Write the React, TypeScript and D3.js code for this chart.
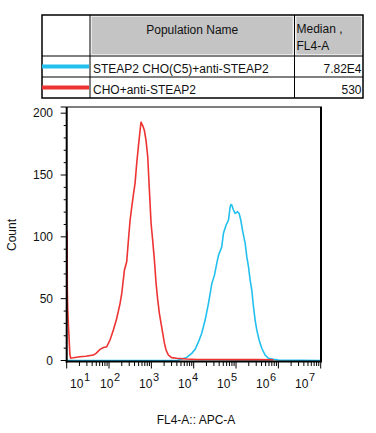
import React from "react";
import * as d3 from "d3";

// ---- data (log10 of FL4-A intensity, count) ----
const redLog = [1.0, 1.008, 1.015, 1.025, 1.039, 1.05, 1.062, 1.075, 1.094, 1.157, 1.315, 1.45, 1.63, 1.7, 1.787, 1.87, 1.945, 2.023, 2.102, 2.181, 2.26, 2.3, 2.363, 2.418, 2.457, 2.496, 2.536, 2.575, 2.615, 2.654, 2.693, 2.733, 2.756, 2.776, 2.796, 2.835, 2.874, 2.914, 2.953, 2.993, 3.032, 3.072, 3.111, 3.15, 3.19, 3.229, 3.269, 3.308, 3.347, 3.402, 3.481, 3.6, 3.836, 4.073, 4.5, 5.0, 5.5, 5.885];
const redCount = [105, 104, 56, 40, 30, 22, 14, 5, 2, 2.2, 3, 3.5, 4.4, 6, 9, 10.5, 11, 16.6, 24.7, 34, 46, 54, 73, 80, 97, 113, 124, 134, 143.5, 159.5, 173, 186, 193, 191, 190, 186, 178, 165, 138, 111, 97, 81, 62.5, 49, 38, 30, 22, 14, 8.5, 4.4, 2.3, 1.8, 1.2, 0.8, 0.8, 0.7, 0.7, 0.6];
const blueLog = [1.0, 3.6, 3.718, 3.836, 3.954, 4.033, 4.112, 4.19, 4.27, 4.348, 4.427, 4.49, 4.545, 4.585, 4.663, 4.703, 4.766, 4.821, 4.86, 4.88, 4.9, 4.939, 4.978, 5.034, 5.073, 5.112, 5.16, 5.215, 5.254, 5.294, 5.333, 5.372, 5.412, 5.451, 5.49, 5.545, 5.608, 5.687, 5.766, 5.885, 6.003, 7.0];
const blueCount = [0, 0, 1.2, 2.5, 5.8, 9, 15, 22, 32.7, 46, 62, 69, 78.6, 85, 92, 103, 109.6, 113.4, 124, 126, 125.7, 121.7, 119, 120.3, 119, 113.6, 104, 95, 84, 76, 65, 57, 43.5, 32.7, 24.7, 16.6, 9.9, 4.4, 1.8, 1, 0.4, 0];

const populations = ["STEAP2 CHO(C5)+anti-STEAP2", "CHO+anti-STEAP2"];
const medians = ["7.82E4", "530"];
const popColors = ["#22c0ee", "#ee3333"];
const yTickLabels = [0, 50, 100, 150, 200];
const xDecades = [1, 2, 3, 4, 5, 6, 7];

const FONT = "'Liberation Sans', Arial, sans-serif";

export default function App() {
  const W = 376, H = 433;
  const left = 66.7, right = 321, top = 107, bottom = 361.5;
  const x = d3.scaleLog().domain([10, 1e7]).range([left, 320.7]);
  const y = d3.scaleLinear().domain([0, 205]).range([360.5, top]);
  const labelX = d3.scaleLinear().domain([1, 2, 7]).range([70, 100, 295]);

  const line = d3
    .line<[number, number]>()
    .x((d) => x(Math.pow(10, d[0])))
    .y((d) => y(d[1]))
    .curve(d3.curveLinear);

  const redPts = redLog.map((v, i) => [v, redCount[i]] as [number, number]);
  const bluePts = blueLog.map((v, i) => [v, blueCount[i]] as [number, number]);

  const xTicks = x.ticks();
  const yMinor = d3.range(0, 201, 10);

  // table geometry
  const tx0 = 42, tx1 = 90, tx2 = 294.5, tx3 = 363;
  const ty0 = 15, ty1 = 56, ty2 = 77, ty3 = 98;
  const rowY = [ty1, ty2, ty3];

  return (
    <svg width={W} height={H} style={{ position: "absolute", left: 0, top: 0, background: "#fff" }} fontFamily={FONT}>
      <rect x={0} y={0} width={W} height={H} fill="#fff" />
      {/* table */}
      <rect x={tx1 + 1.5} y={ty0 + 1.5} width={tx2 - tx1 - 3} height={ty1 - ty0 - 3} fill="#c4c4c4" stroke="#e8e8e8" strokeWidth={1} />
      <rect x={tx2 + 1.5} y={ty0 + 1.5} width={tx3 - tx2 - 3} height={ty1 - ty0 - 3} fill="#c4c4c4" stroke="#e8e8e8" strokeWidth={1} />
      <rect x={tx0} y={ty0} width={tx3 - tx0} height={ty3 - ty0} fill="none" stroke="#000" strokeWidth={1.5} />
      <line x1={tx1} x2={tx1} y1={ty0} y2={ty3} stroke="#000" strokeWidth={1} />
      <line x1={tx2} x2={tx2} y1={ty0} y2={ty3} stroke="#000" strokeWidth={1} />
      <line x1={tx0} x2={tx3} y1={ty1} y2={ty1} stroke="#000" strokeWidth={1} />
      <line x1={tx0} x2={tx3} y1={ty2} y2={ty2} stroke="#000" strokeWidth={1} />
      <text x={(tx1 + tx2) / 2} y={33.5} textAnchor="middle" fontSize={12} fill="#111">Population Name</text>
      <text x={296.5} y={33} fontSize={12} fill="#111">Median ,</text>
      <text x={296.5} y={50} fontSize={12} fill="#111">FL4-A</text>
      {populations.map((p, i) => {
        const yTop = rowY[i];
        const yBot = rowY[i + 1];
        const mid = (yTop + yBot) / 2;
        return (
          <g key={p}>
            <line x1={tx0} x2={tx1 - 1} y1={mid} y2={mid} stroke={popColors[i]} strokeWidth={4} />
            <text x={93} y={yBot - 4.5} fontSize={12} fill="#111">{p}</text>
            <text x={361.5} y={yBot - 4.5} fontSize={12} fill="#111" textAnchor="end">{medians[i]}</text>
          </g>
        );
      })}

      {/* histograms */}
      <path d={line(bluePts) || ""} fill="none" stroke={popColors[0]} strokeWidth={1.6} />
      <path d={line(redPts) || ""} fill="none" stroke={popColors[1]} strokeWidth={1.6} />

      {/* frame */}
      <line x1={left} x2={right + 1} y1={top} y2={top} stroke="#000" strokeWidth={1.2} />
      <line x1={right} x2={right} y1={top} y2={bottom} stroke="#000" strokeWidth={2} />
      <line x1={left} x2={left} y1={top} y2={bottom + 1} stroke="#000" strokeWidth={2} />
      <line x1={left - 1} x2={right + 1} y1={bottom} y2={bottom} stroke="#000" strokeWidth={2} />

      {/* y axis ticks */}
      <line x1={left - 6} x2={left} y1={top} y2={top} stroke="#000" strokeWidth={1} />
      {yMinor.map((v) => {
        const major = v % 50 === 0;
        return (
          <line key={v} x1={left - (major ? 6 : 3)} x2={left} y1={y(v)} y2={y(v)} stroke="#000" strokeWidth={1} />
        );
      })}
      {yTickLabels.map((v) => (
        <text key={v} x={53} y={y(v) + 4.3} textAnchor="end" fontSize={12} fill="#111">{v}</text>
      ))}

      {/* x axis ticks */}
      {xTicks.map((t, i) => {
        const lg = Math.log10(t);
        const major = Math.abs(lg - Math.round(lg)) < 1e-9;
        return (
          <line key={i} x1={x(t)} x2={x(t)} y1={bottom} y2={bottom + (major ? 7 : 4.5)} stroke="#000" strokeWidth={1} />
        );
      })}
      {xDecades.map((d) => (
        <g key={d}>
          <text x={labelX(d)} y={388} fontSize={12} fill="#111">10</text>
          <text x={labelX(d) + 14} y={380.5} fontSize={11} fill="#111">{d}</text>
        </g>
      ))}

      <text x={196} y={424} textAnchor="middle" fontSize={12} fill="#111">FL4-A:: APC-A</text>
      <text transform={`translate(16,235) rotate(-90)`} textAnchor="middle" fontSize={12} fill="#111">Count</text>
    </svg>
  );
}
